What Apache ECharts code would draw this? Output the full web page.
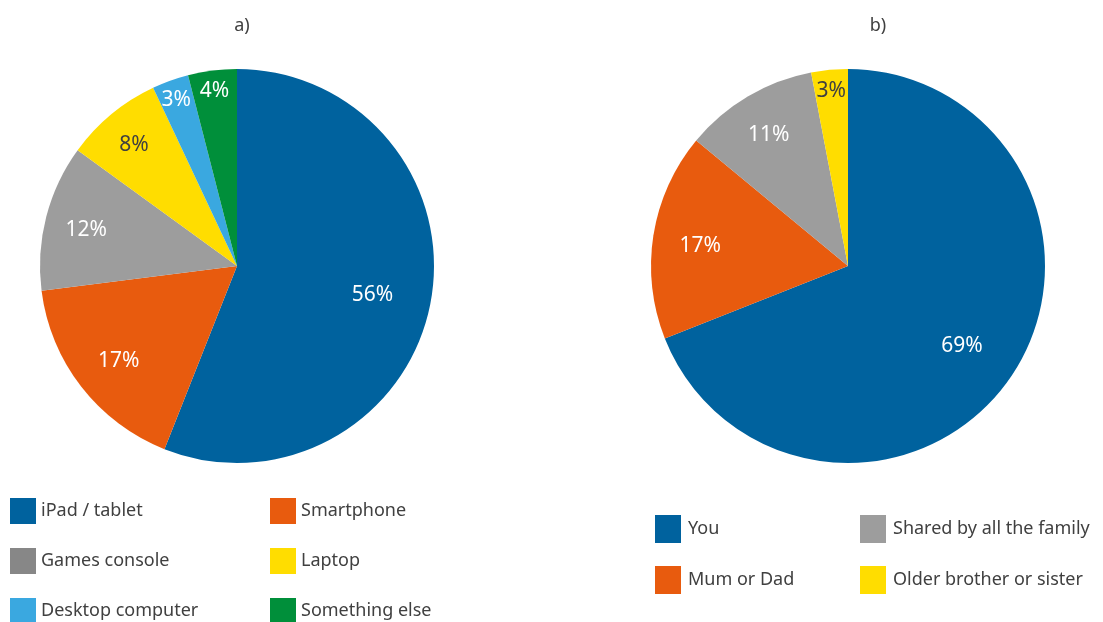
<!DOCTYPE html>
<html>
<head>
<meta charset="utf-8">
<script src="https://cdn.jsdelivr.net/npm/echarts@6/dist/echarts.min.js"></script>
<style>
html,body{margin:0;padding:0;background:#fff;}
#chart{width:1103px;height:622px;}
</style>
</head>
<body>
<div id="chart"></div>
<script>
// ---- data ----
const titleA = 'a)';
const titleB = 'b)';
const devices = ['iPad / tablet', 'Smartphone', 'Games console', 'Laptop', 'Desktop computer', 'Something else'];
const deviceShares = [56, 17, 12, 8, 3, 4];
const owners = ['You', 'Mum or Dad', 'Shared by all the family', 'Older brother or sister'];
const ownerShares = [69, 17, 11, 3];

// ---- styles ----
const FONT = '"Noto Sans", "Open Sans", sans-serif';
const TEXT = '#404040';
const deviceColors = ['#00629e', '#e85b0e', '#9d9d9d', '#ffdd00', '#3aa8e0', '#008f3a'];
const ownerColors = ['#00629e', '#e85b0e', '#9d9d9d', '#ffdd00'];
const R = 197;
const centerA = [237, 266];
const centerB = [848, 266];

function radialFactor(v) {
  if (v >= 40) return 0.70;
  if (v >= 15) return 0.76;
  if (v >= 10) return 0.79;
  if (v >= 6) return 0.82;
  return 0.91;
}

function makeLayout(center, values) {
  return function (p) {
    const lr = p.labelRect;
    const lx = lr.x + lr.width / 2, ly = lr.y + lr.height / 2;
    const dx = lx - center[0], dy = ly - center[1];
    const d = Math.hypot(dx, dy) || 1;
    const t = radialFactor(values[p.dataIndex]) * R;
    return {
      x: center[0] + dx / d * t,
      y: center[1] + dy / d * t + 3,
      align: 'center',
      verticalAlign: 'middle'
    };
  };
}

function pieData(names, values, colors) {
  return names.map((n, i) => ({
    name: n,
    value: values[i],
    itemStyle: { color: colors[i] },
    label: { color: colors[i] === '#ffdd00' ? TEXT : '#ffffff' }
  }));
}

const legendColorOverride = { 'Games console': '#878787' };
function legendItems(names) {
  return names.map((n) => legendColorOverride[n] ? { name: n, itemStyle: { color: legendColorOverride[n] } } : { name: n });
}

const legendTextStyle = { fontFamily: FONT, fontSize: 18, color: TEXT };
function legendCol(left, top, names, ih, gap, tgap) {
  return {
    orient: 'vertical', left: left, top: top, height: 300, padding: 0,
    itemWidth: 26, itemHeight: ih, itemGap: gap,
    icon: 'rect', textStyle: Object.assign({ padding: [0, 0, 0, tgap] }, legendTextStyle),
    selectedMode: false, data: legendItems(names)
  };
}

const chart = echarts.init(document.getElementById('chart'), null, { renderer: 'canvas' });
chart.setOption({
  backgroundColor: '#ffffff',
  animation: false,
  title: [
    { text: titleA, left: 237, top: 12, textAlign: 'center',
      textStyle: { fontFamily: FONT, fontSize: 18, fontWeight: 'normal', color: TEXT } },
    { text: titleB, left: 873, top: 12, textAlign: 'center',
      textStyle: { fontFamily: FONT, fontSize: 18, fontWeight: 'normal', color: TEXT } }
  ],
  legend: [
    legendCol(10, 498, [devices[0], devices[2], devices[4]], 26, 24, 0),
    legendCol(270, 498, [devices[1], devices[3], devices[5]], 26, 24, 0),
    legendCol(655, 515, [owners[0], owners[1]], 28, 23, 2),
    legendCol(860, 515, [owners[2], owners[3]], 28, 23, 2)
  ],
  series: [
    {
      type: 'pie', center: centerA, radius: [0, R], startAngle: 90, clockwise: true,
      avoidLabelOverlap: false, silent: true,
      label: { show: true, position: 'inside', formatter: '{c}%', fontFamily: FONT, fontSize: 21 },
      labelLine: { show: false },
      labelLayout: makeLayout(centerA, deviceShares),
      itemStyle: { borderWidth: 0 },
      data: pieData(devices, deviceShares, deviceColors)
    },
    {
      type: 'pie', center: centerB, radius: [0, R], startAngle: 90, clockwise: true,
      avoidLabelOverlap: false, silent: true,
      label: { show: true, position: 'inside', formatter: '{c}%', fontFamily: FONT, fontSize: 21 },
      labelLine: { show: false },
      labelLayout: makeLayout(centerB, ownerShares),
      itemStyle: { borderWidth: 0 },
      data: pieData(owners, ownerShares, ownerColors)
    }
  ]
});
</script>
</body>
</html>
